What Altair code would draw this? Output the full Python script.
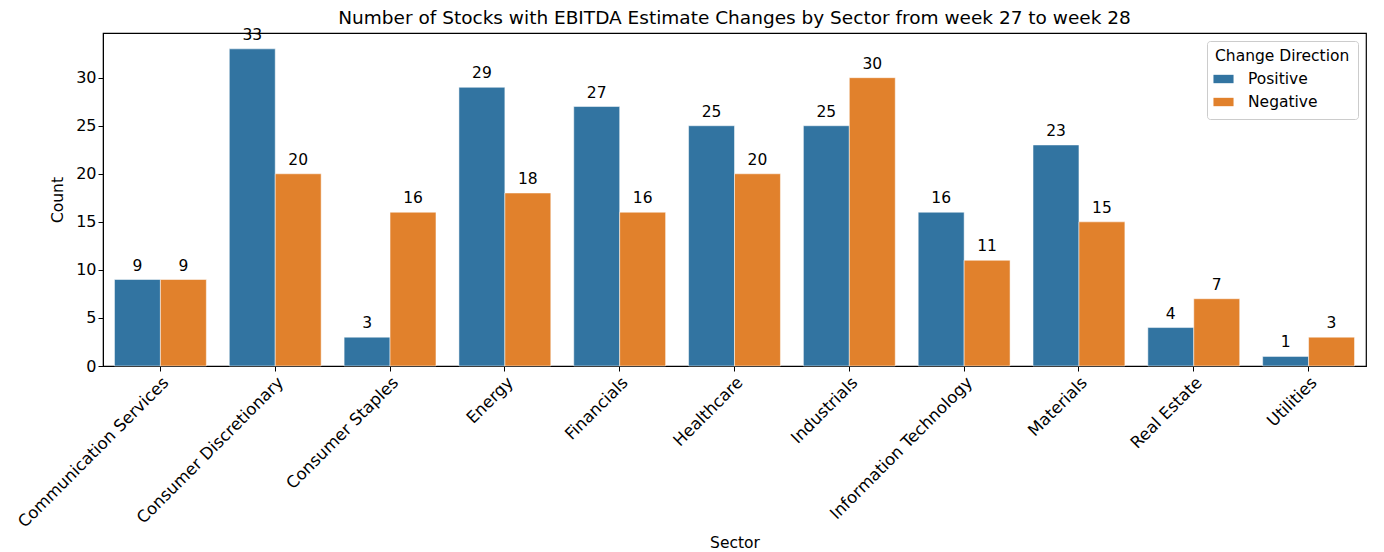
import altair as alt
import pandas as pd

sectors = ["Communication Services", "Consumer Discretionary", "Consumer Staples", "Energy",
           "Financials", "Healthcare", "Industrials", "Information Technology",
           "Materials", "Real Estate", "Utilities"]
positive = [9, 33, 3, 29, 27, 25, 25, 16, 23, 4, 1]
negative = [9, 20, 16, 18, 16, 20, 30, 11, 15, 7, 3]
directions = ["Positive", "Negative"]
colors = ["#3274a1", "#e1812c"]

rows = []
for s, p, n in zip(sectors, positive, negative):
    rows.append({"Sector": s, "Direction": "Positive", "Count": p})
    rows.append({"Sector": s, "Direction": "Negative", "Count": n})
df = pd.DataFrame(rows)

FONT = "DejaVu Sans"
FS = 15.5

base = alt.Chart(df).encode(
    x=alt.X("Sector:N", sort=sectors,
            scale=alt.Scale(paddingInner=0.2, paddingOuter=0.1),
            axis=alt.Axis(title="Sector", labelAngle=-45, labelAlign="right",
                          labelBaseline="top", labelFontSize=16.5, titleFontSize=FS,
                          titleFontWeight="normal", labelColor="black", titleColor="black",
                          tickColor="black", tickSize=5, domainColor="black",
                          titleY=181, titleBaseline="alphabetic", labelPadding=3,
                          labelLimit=0)),
    xOffset=alt.XOffset("Direction:N", sort=directions,
                        scale=alt.Scale(paddingInner=0, paddingOuter=0)),
    y=alt.Y("Count:Q", scale=alt.Scale(domain=[0, 34.65], nice=False),
            axis=alt.Axis(title="Count", values=[0, 5, 10, 15, 20, 25, 30], grid=False,
                          labelFontSize=16, titleFontSize=FS, titleFontWeight="normal",
                          labelColor="black", titleColor="black", tickColor="black",
                          tickSize=5, domainColor="black", titlePadding=10)),
)

bars = base.mark_bar(stroke="white", strokeWidth=0.5).encode(
    color=alt.Color("Direction:N", sort=directions,
                    scale=alt.Scale(domain=directions, range=colors),
                    legend=alt.Legend(title="Change Direction", orient="top-right", offset=8,
                                      titleFontSize=FS, titleFontWeight="normal",
                                      labelFontSize=FS, titleColor="black", labelColor="black",
                                      symbolType="M-1.2,-0.5L1.2,-0.5L1.2,0.5L-1.2,0.5Z",
                                      symbolSize=280, symbolStrokeWidth=0,
                                      strokeColor="#cccccc", fillColor="white", padding=8,
                                      cornerRadius=3, rowPadding=6, labelOffset=16,
                                      titlePadding=6))
)

labels = base.mark_text(baseline="bottom", dy=-6, fontSize=FS, color="black", font=FONT).encode(
    text=alt.Text("Count:Q")
)

chart = (bars + labels).properties(
    width=1263, height=333,
    title=alt.TitleParams("Number of Stocks with EBITDA Estimate Changes by Sector from week 27 to week 28",
                          fontSize=18.5, fontWeight="normal", color="black", font=FONT,
                          offset=0),
    autosize=alt.AutoSizeParams(type="none"),
    padding={"left": 95, "top": 25, "right": 10, "bottom": 186},
).configure(font=FONT).configure_view(stroke="black", strokeWidth=1.2)

chart.save("out.html", embed_options={"renderer": "svg", "actions": False})
